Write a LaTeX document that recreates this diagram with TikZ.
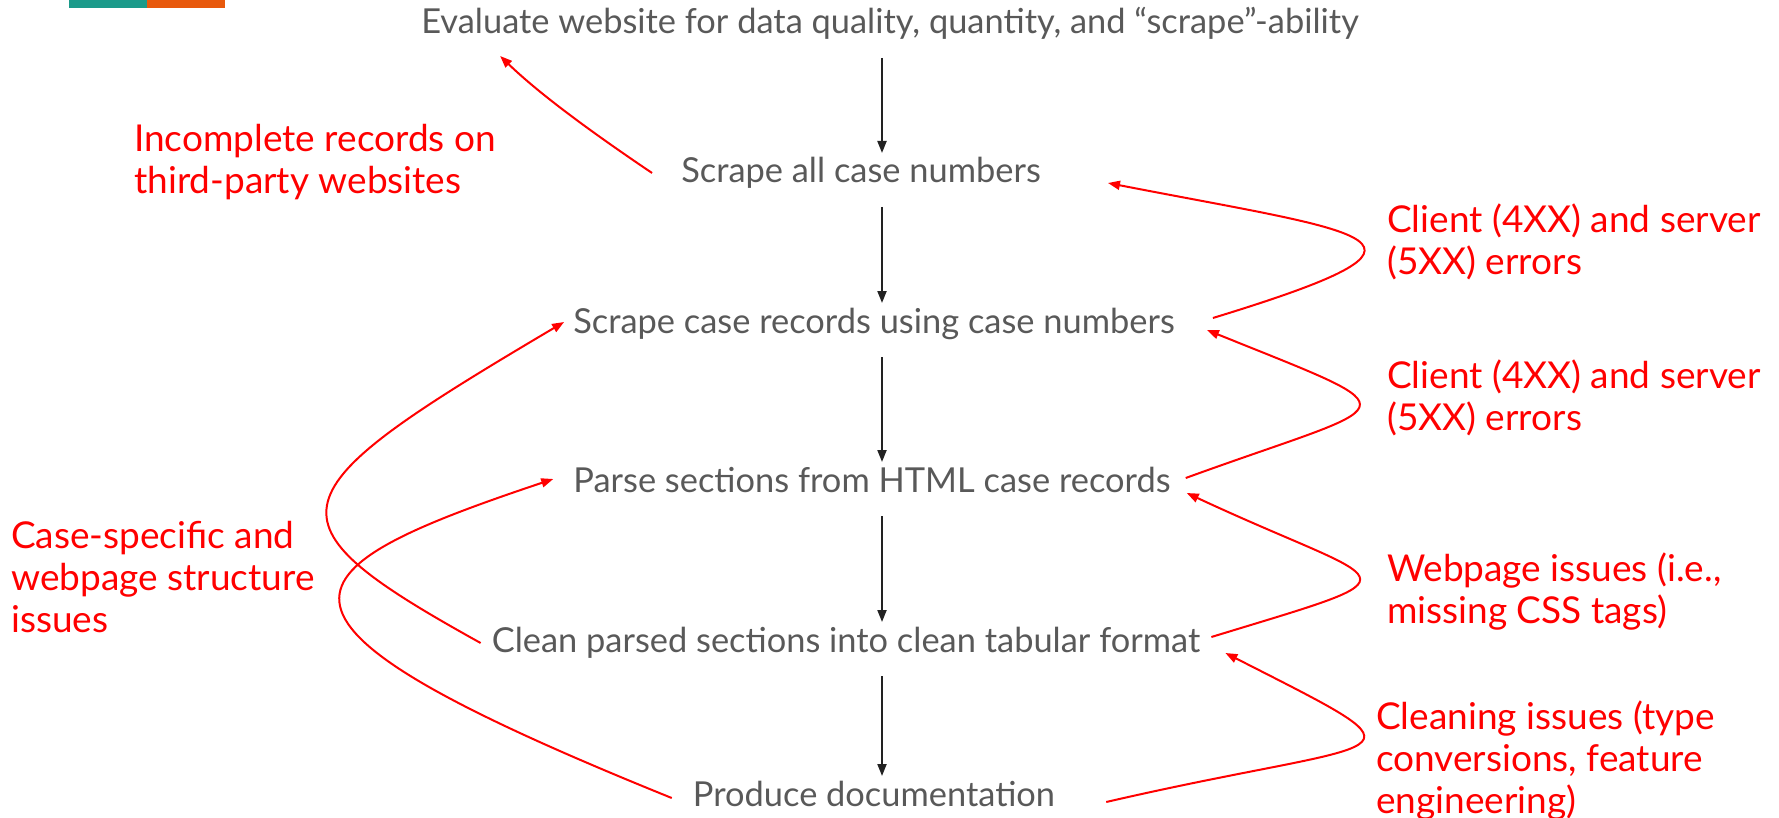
\documentclass[tikz,border=0pt]{standalone}
\usepackage{fontspec}
\setmainfont{Lato}
\usepackage{tikz}
\usetikzlibrary{arrows.meta, positioning, calc}
\definecolor{StepGray}{HTML}{595959}
\definecolor{IssueRed}{HTML}{FF0000}
\definecolor{FlowBlack}{HTML}{222222}
\definecolor{BarTeal}{HTML}{1B9A8A}
\definecolor{BarOrange}{HTML}{E8590C}
\tikzset{
  stepnode/.style={inner sep=0pt, anchor=base, text=StepGray, font=\fontsize{34.4}{40}\selectfont},
  issuenode/.style={inner sep=0pt, anchor=base west, align=left, text=IssueRed, font=\fontsize{37}{42}\selectfont},
  flowarrow/.style={-{Triangle[length=12pt,width=9pt]}, line width=2pt, FlowBlack, shorten <=24pt, shorten >=30pt},
  issuearrow/.style={-{Triangle[length=12pt,width=9pt]}, line width=2pt, IssueRed}
}

\begin{document}
\begin{tikzpicture}[x=1pt, y=1pt]
  \useasboundingbox (0,0) rectangle (1779,-818);
  \fill[BarTeal] (69,0) rectangle (147,-8);
  \fill[BarOrange] (147,0) rectangle (225,-8);

  % pipeline steps
  \node[stepnode] (eval) at (890,-34) {Evaluate website for data quality, quantity, and “scrape”-ability};
  \node[stepnode] (scrapenum) at (861,-183) {Scrape all case numbers};
  \node[stepnode] (scraperec) at (874,-333) {Scrape case records using case numbers};
  \node[stepnode] (parse) at (872,-492) {Parse sections from HTML case records};
  \node[stepnode] (clean) at (846,-652) {Clean parsed sections into clean tabular format};
  \node[stepnode] (produce) at (874,-806) {Produce documentation};
  \coordinate (axis) at (882,0);

  % issues (base = last line)
  \node[issuenode] (incomplete) at (134,-194) {Incomplete records on\\third-party websites};
  \node[issuenode] (clientA) at (1387,-275) {Client (4XX) and server\\(5XX) errors};
  \node[issuenode] (clientB) at (1387,-430) {Client (4XX) and server\\(5XX) errors};
  \node[issuenode] (casespec) at (11,-632) {Case-specific and\\webpage structure\\issues};
  \node[issuenode] (webpage) at (1387,-623) {Webpage issues (i.e.,\\missing CSS tags)};
  \node[issuenode] (cleaning) at (1376,-813) {Cleaning issues (type\\conversions, feature\\engineering)};

  \draw[flowarrow] (eval.base -| axis) -- (scrapenum.base -| axis);
  \draw[flowarrow] (scrapenum.base -| axis) -- (scraperec.base -| axis);
  \draw[flowarrow] (scraperec.base -| axis) -- (parse.base -| axis);
  \draw[flowarrow] (parse.base -| axis) -- (clean.base -| axis);
  \draw[flowarrow] (clean.base -| axis) -- (produce.base -| axis);

  % loops back
  \draw[issuearrow] ([xshift=-29pt,yshift=10pt]scrapenum.base west) .. controls +(146:60) and +(-44:60) .. ([xshift=79pt,yshift=-22pt]eval.base west);
  \draw[issuearrow] ([xshift=38pt,yshift=15pt]scraperec.base east) .. controls +(17:270) and +(-11:270) .. ([xshift=67pt]scrapenum.base east);
  \draw[issuearrow] ([xshift=15pt,yshift=14pt]parse.base east) .. controls +(20:231) and +(-22:231) .. ([xshift=32pt,yshift=3pt]scraperec.base east);
  \draw[issuearrow] ([xshift=11pt,yshift=15pt]clean.base east) .. controls +(17:228) and +(-25:228) .. ([xshift=16pt,yshift=-1pt]parse.base east);
  \draw[issuearrow] ([xshift=51pt,yshift=4pt]produce.base east) .. controls +(13:300) and +(-27:245) .. ([xshift=25pt,yshift=-1pt]clean.base east);
  \draw[issuearrow] ([xshift=-11pt,yshift=9pt]clean.base west) .. controls +(151:255) and +(210.6:340) .. ([xshift=-9pt,yshift=11pt]scraperec.base west);
  \draw[issuearrow] ([xshift=-21pt,yshift=8pt]produce.base west) .. controls +(158:480) and +(198.5:293) .. ([xshift=-20pt,yshift=13pt]parse.base west);
\end{tikzpicture}
\end{document}
